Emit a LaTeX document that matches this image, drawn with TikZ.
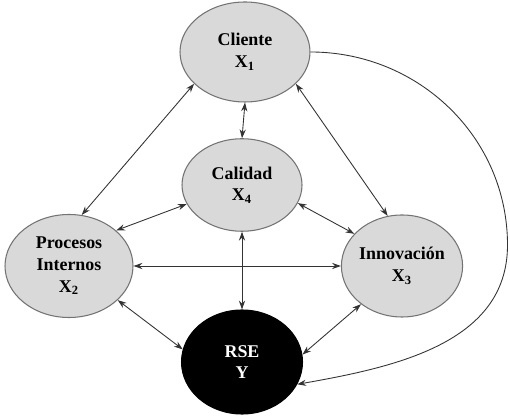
\documentclass[tikz,border=0pt]{standalone}
\usepackage{fontspec}
\setmainfont{Liberation Serif}
\usetikzlibrary{shapes.geometric,arrows.meta}
\begin{document}
\begin{tikzpicture}[
        var/.style={ellipse,draw=gray!90!black,fill=gray!30,line width=0.6pt,
            minimum width=2.4cm,minimum height=2cm,inner sep=0pt,
            align=center,font=\fontsize{10.2}{12.4}\selectfont\bfseries},
        dep/.style={var,fill=black,draw=black,text=white},
        flecha/.style={<->,>={Stealth[length=5pt,width=3.5pt]},
            draw=black!80,line width=0.5pt}]
    \useasboundingbox (0,0) rectangle (10.2,8.38);
    \node[var,minimum width=2.6cm] (cliente) at (4.9,7.34) {Cliente\\X\textsubscript{1}};
    \node[var,minimum height=1.85cm] (calidad) at (4.84,4.68) {Calidad\\X\textsubscript{4}};
    \node[var,minimum width=2.56cm,minimum height=2.06cm] (procesos) at (1.38,3.06)
        {Procesos\\Internos\\X\textsubscript{2}};
    \node[var,minimum height=2.04cm] (innovacion) at (8.04,3.06) {Innovación\\X\textsubscript{3}};
    \node[dep,minimum width=2.42cm,minimum height=2.08cm] (rse) at (4.84,1.14) {RSE\\Y};
    \coordinate (borde) at (10.15,3.48);

    \draw[flecha] (cliente.212) -- (procesos.76);
    \draw[flecha] (cliente.south) -- (calidad.north);
    \draw[flecha] (cliente.-32) -- (innovacion.106);
    \draw[flecha] (calidad.199) -- (procesos.37);
    \draw[flecha] (calidad.-18) -- (innovacion.146);
    \draw[flecha] (procesos) -- (innovacion);
    \draw[flecha] (calidad.south) -- (rse.north);
    \draw[flecha] (procesos.-35) -- (rse.168);
    \draw[flecha] (innovacion.223) -- (rse.7);
    \draw[flecha,<-] (rse.-22) to[out=10,in=-90] (borde) to[out=90,in=0] (cliente.east);
\end{tikzpicture}
\end{document}
